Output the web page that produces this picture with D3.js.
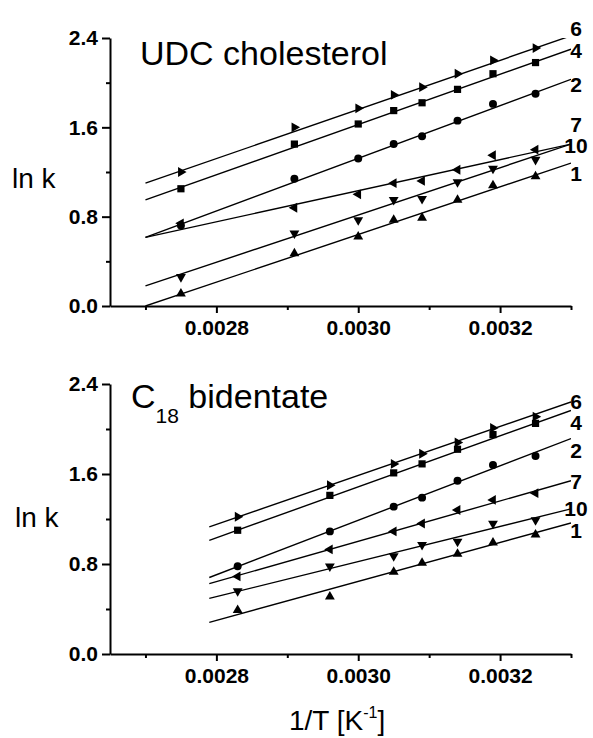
<!DOCTYPE html>
<html>
<head>
<meta charset="utf-8">
<script src="https://cdn.jsdelivr.net/npm/d3@7"></script>
<style>
  body { margin: 0; background: #fff; }
  svg { display: block; font-family: "Liberation Sans", Arial, sans-serif; }
</style>
</head>
<body>
<script>
// series order: 6, 4, 2, 7, 10, 1
const seriesNames = ["6", "4", "2", "7", "10", "1"];
const seriesSymbols = ["right", "square", "circle", "left", "down", "up"];

// UDC cholesterol (top)
const xTop = [0.00275, 0.00291, 0.00300, 0.00305, 0.00309, 0.00314, 0.00319, 0.00325];
const yTop = [
  [1.20, 1.60, 1.77, 1.89, 1.96, 2.08, 2.20, 2.31],
  [1.05, 1.45, 1.63, 1.75, 1.82, 1.94, 2.08, 2.18],
  [0.72, 1.14, 1.32, 1.45, 1.52, 1.66, 1.81, 1.90],
  [0.74, 0.88, 1.00, 1.10, 1.12, 1.22, 1.35, 1.40],
  [0.26, 0.65, 0.77, 0.95, 0.96, 1.11, 1.23, 1.31],
  [0.11, 0.47, 0.62, 0.77, 0.79, 0.95, 1.08, 1.16]
];
const topFitX = [0.0027, 0.0033];
const topFitStart = [1.10, 0.95, 0.615, 0.615, 0.18, 0.0];
const topFitEnd = [2.42, 2.30, 2.03, 1.45, 1.45, 1.28];
const topLabelY = [2.49, 2.29, 1.98, 1.63, 1.44, 1.19];

// C18 bidentate (bottom)
const xBottom = [0.00283, 0.00296, 0.00305, 0.00309, 0.00314, 0.00319, 0.00325];
const yBottom = [
  [1.22, 1.50, 1.69, 1.78, 1.88, 2.01, 2.11],
  [1.10, 1.41, 1.61, 1.69, 1.82, 1.95, 2.05],
  [0.78, 1.09, 1.31, 1.39, 1.54, 1.68, 1.76],
  [0.69, 0.93, 1.09, 1.16, 1.28, 1.37, 1.43],
  [0.56, 0.78, 0.87, 0.97, 1.00, 1.16, 1.19],
  [0.39, 0.51, 0.73, 0.81, 0.89, 0.99, 1.06]
];
const bottomFitX = [0.00279, 0.0033];
const bottomFitStart = [1.13, 1.01, 0.68, 0.625, 0.494, 0.281];
const bottomFitEnd = [2.24, 2.165, 1.915, 1.54, 1.29, 1.165];
const bottomLabelY = [2.245, 2.055, 1.81, 1.53, 1.29, 1.10];

const xDomain = [0.00265, 0.0033];
const xMajor = [0.0028, 0.0030, 0.0032];
const xMinor = [0.0027, 0.0029, 0.0031, 0.0033];
const yDomain = [0, 2.4];
const yMajor = [0, 0.8, 1.6, 2.4];
const yMinor = [0.4, 1.2, 2.0];

const width = 593, height = 738;
const left = 110, right = 571;

const svg = d3.select("body").append("svg")
    .attr("width", width)
    .attr("height", height);

const x = d3.scaleLinear().domain(xDomain).range([left, right]);

function symbolPath(kind) {
  if (kind === "square") return d3.symbol(d3.symbolSquare, 52)();
  if (kind === "circle") return d3.symbol(d3.symbolCircle, 50)();
  return d3.symbol(d3.symbolTriangle, 42)();
}
const rotation = { up: 0, right: 90, down: 180, left: -90, square: 0, circle: 0 };

function drawPanel(opt) {
  const y = d3.scaleLinear().domain(yDomain).range([opt.bottom, opt.top]);
  const g = svg.append("g");

  const clipId = "clip" + opt.id;
  g.append("clipPath").attr("id", clipId)
    .append("rect")
      .attr("x", left).attr("y", opt.top)
      .attr("width", right - left).attr("height", opt.bottom - opt.top);

  // fit lines
  const line = d3.line().x(d => x(d[0])).y(d => y(d[1]));
  g.append("g")
      .attr("clip-path", `url(#${clipId})`)
    .selectAll("path")
    .data(seriesNames.map((s, i) => [[opt.fitX[0], opt.fitStart[i]], [opt.fitX[1], opt.fitEnd[i]]]))
    .join("path")
      .attr("d", line)
      .attr("fill", "none")
      .attr("stroke", "#000")
      .attr("stroke-width", 1.4);

  // markers
  seriesNames.forEach((s, i) => {
    g.append("g").selectAll("path")
      .data(opt.xs.map((xv, j) => [xv, opt.ys[i][j]]))
      .join("path")
        .attr("d", symbolPath(seriesSymbols[i]))
        .attr("transform", d => `translate(${x(d[0])},${y(d[1])}) rotate(${rotation[seriesSymbols[i]]})`)
        .attr("fill", "#000");
  });

  // series labels
  g.append("g").selectAll("text")
    .data(seriesNames)
    .join("text")
      .attr("x", x(xDomain[1]) + 5)
      .attr("y", (d, i) => y(opt.labelY[i]))
      .attr("dy", "0.36em")
      .attr("text-anchor", "middle")
      .attr("font-size", 21)
      .attr("font-weight", "bold")
      .text(d => d);

  // axes
  g.append("g")
      .attr("transform", `translate(${left},0)`)
      .call(d3.axisLeft(y).tickValues(yMajor).tickFormat(d3.format(".1f")).tickSize(8).tickSizeOuter(0).tickPadding(4));
  g.append("g")
      .attr("transform", `translate(${left},0)`)
      .call(d3.axisLeft(y).tickValues(yMinor).tickFormat("").tickSize(4).tickSizeOuter(0))
      .call(a => a.select(".domain").remove());
  g.append("g")
      .attr("transform", `translate(0,${opt.bottom})`)
      .call(d3.axisBottom(x).tickValues(xMajor).tickFormat(d3.format(".4f")).tickSize(7).tickSizeOuter(0).tickPadding(7));
  g.append("g")
      .attr("transform", `translate(0,${opt.bottom})`)
      .call(d3.axisBottom(x).tickValues(xMinor).tickFormat("").tickSize(4).tickSizeOuter(0))
      .call(a => a.select(".domain").remove());

  g.selectAll(".domain, .tick line").attr("stroke", "#000").attr("stroke-width", 2);
  g.selectAll(".tick text")
      .attr("fill", "#000")
      .attr("font-size", 21)
      .attr("font-weight", "bold")
      .attr("font-family", "'Liberation Sans', Arial, sans-serif");

  // y label
  g.append("text")
      .attr("x", opt.ylabelX).attr("y", opt.ylabelY)
      .attr("font-size", 28)
      .text("ln k");

  return g;
}

const topPanel = drawPanel({
  id: "top", top: 38, bottom: 306,
  xs: xTop, ys: yTop, fitX: topFitX, fitStart: topFitStart, fitEnd: topFitEnd,
  labelY: topLabelY, ylabelX: 12, ylabelY: 188
});
topPanel.append("text")
    .attr("x", 140).attr("y", 65)
    .attr("font-size", 34)
    .text("UDC cholesterol");

const bottomPanel = drawPanel({
  id: "bottom", top: 384, bottom: 654,
  xs: xBottom, ys: yBottom, fitX: bottomFitX, fitStart: bottomFitStart, fitEnd: bottomFitEnd,
  labelY: bottomLabelY, ylabelX: 15, ylabelY: 527
});
const title2 = bottomPanel.append("text")
    .attr("x", 131).attr("y", 408)
    .attr("font-size", 34);
title2.append("tspan").text("C");
title2.append("tspan").attr("font-size", 21).attr("dy", 15).text("18");
title2.append("tspan").attr("dy", -15).text(" bidentate");

// x axis title
const xt = svg.append("text")
    .attr("x", 289).attr("y", 730)
    .attr("font-size", 28);
xt.append("tspan").text("1/T [K");
xt.append("tspan").attr("font-size", 16).attr("dy", -12).text("-1");
xt.append("tspan").attr("dy", 12).text("]");
</script>
</body>
</html>
